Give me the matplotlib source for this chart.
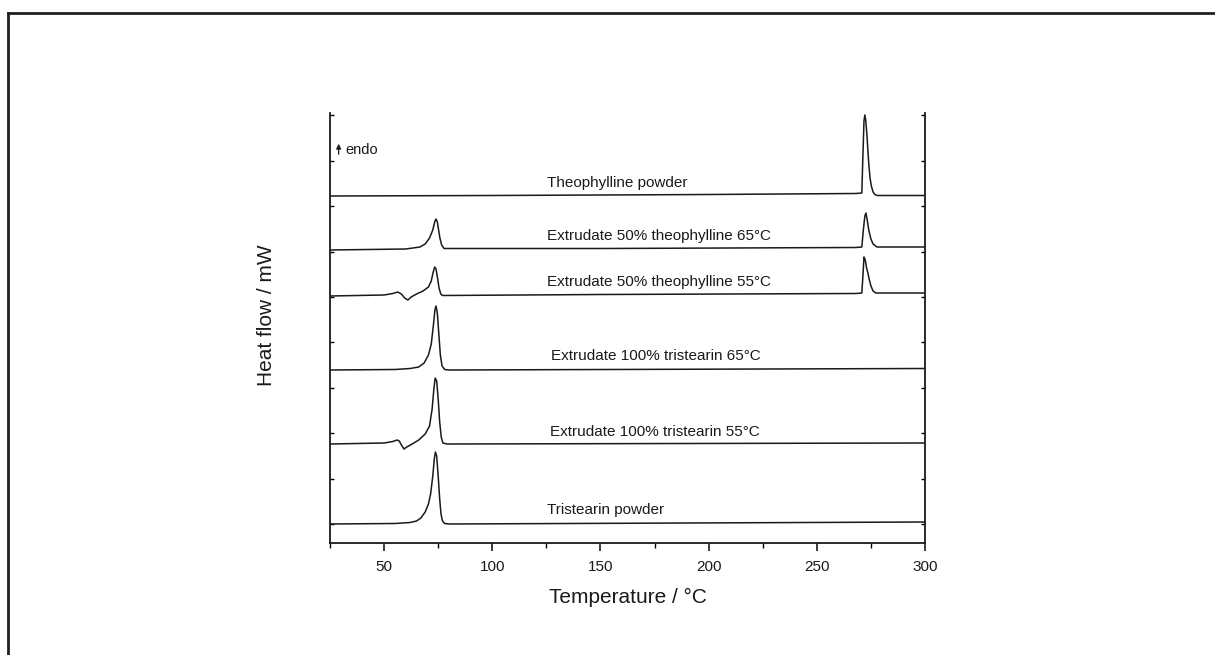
import matplotlib
matplotlib.use('Agg')
import matplotlib.pyplot as plt
from matplotlib.lines import Line2D
from matplotlib.ticker import MultipleLocator

plt.rcParams['font.family'] = ['Liberation Sans', 'DejaVu Sans']

# curve data: temperature (°C) and signal above its own baseline (arb. units)
theo_T = [25, 100, 200, 268, 270.8, 271.3, 271.8, 272.2, 272.6, 273.2, 273.7, 274.1,
          274.6, 275.2, 276, 276.8, 278, 300]
theo_h = [0, 0.5, 1.5, 2.5, 3, 40, 75, 81, 76, 60, 42, 30, 18, 10, 4, 1.5, 0.5, 0.5]

ext50_65_T = [25, 60, 66.6, 69, 71, 72.5, 73.5, 74, 74.6, 75.2, 75.8, 76.6, 77.7, 150,
              268, 270.8, 271.5, 272.2, 272.7, 273.3, 274, 275, 276, 277.8, 300]
ext50_65_h = [0, 1, 3, 6, 12, 20, 29, 31, 28, 20, 12, 5, 1.5, 1.5,
              2.5, 3, 20, 34, 37, 30, 20, 11, 6, 3, 3]

ext50_55_T = [25, 50, 54, 56.3, 58, 59.5, 61, 62.5, 65, 68, 70.5, 71.8, 72.7, 73.4, 74,
              74.7, 75.4, 76.2, 77, 150, 268, 270.8, 271.3, 271.8, 272.4, 273, 273.6,
              274.3, 275, 276, 277.3, 300]
ext50_55_h = [0, 1, 2.5, 4, 2, -2, -4, -1, 2, 5, 9, 15, 24, 29, 27,
              18, 8, 2, 0.5, 1.5, 2.5, 3, 20, 39, 36, 28, 23,
              16, 10, 5, 3, 3]

ext100_65_T = [25, 55, 62, 66, 68.5, 70.5, 71.8, 72.8, 73.5, 74, 74.6, 75.3, 76, 76.8,
               78, 80, 300]
ext100_65_h = [0, 0.5, 1.5, 3, 7, 15, 26, 45, 60, 64, 57, 36, 15, 4, 0.5, 0, 1.5]

ext100_55_T = [25, 50, 54, 56, 57, 58, 59.2, 60.5, 63, 66, 69, 71, 72.2, 73, 73.6, 74.3,
               75, 75.7, 76.4, 77.2, 79, 300]
ext100_55_h = [0, 1, 2.5, 4, 3, -1, -5, -3, 0, 4, 10, 18, 35, 55, 66, 63,
               45, 22, 7, 1, 0, 1]

tris_T = [25, 55, 62, 65, 67, 69, 70.5, 71.5, 72.5, 73.2, 73.7, 74.3, 75, 75.7, 76.3,
          77, 78, 80, 300]
tris_h = [0, 0.5, 1.5, 3, 6, 12, 20, 30, 48, 65, 72, 68, 48, 25, 10, 3, 0.5, 0, 2]

curves = [(theo_T, theo_h), (ext50_65_T, ext50_65_h), (ext50_55_T, ext50_55_h),
          (ext100_65_T, ext100_65_h), (ext100_55_T, ext100_55_h), (tris_T, tris_h)]
offsets = [347, 293, 247, 173, 99, 19]

labels = ['Theophylline powder',
          'Extrudate 50% theophylline 65°C',
          'Extrudate 50% theophylline 55°C',
          'Extrudate 100% tristearin 65°C',
          'Extrudate 100% tristearin 55°C',
          'Tristearin powder']
label_T = [125.5, 125.5, 125.5, 127, 126.5, 125.5]
label_y = [360, 307, 261, 187, 111, 33]

fig = plt.figure(figsize=(12.15, 6.55), dpi=100)
ax = fig.add_axes([330 / 1215, 112 / 655, 595 / 1215, 430 / 655])

for (T, h), off in zip(curves, offsets):
    ax.plot(T, [v + off for v in h], color='#1a1a1a', lw=1.1)

for txt, tx, ty in zip(labels, label_T, label_y):
    ax.text(tx, ty, txt, fontsize=11, ha='left', va='center', color='#1a1a1a')

ax.set_xlim(25, 300)
ax.set_ylim(0, 430)
ax.xaxis.set_major_locator(MultipleLocator(50))
ax.xaxis.set_minor_locator(MultipleLocator(25))
ax.set_yticks([19 + 45.4 * i for i in range(10)])
ax.set_yticklabels([])
ax.tick_params(axis='x', which='major', direction='out', length=6, width=1.2,
               labelsize=11, colors='#1a1a1a', pad=6)
ax.tick_params(axis='x', which='minor', direction='out', length=3.5, width=1.0)
ax.tick_params(axis='y', direction='in', length=3, width=1.0, left=True, right=True)
ax.spines['top'].set_visible(False)
for s in ['left', 'right', 'bottom']:
    ax.spines[s].set_linewidth(1.3)
    ax.spines[s].set_color('#1a1a1a')

ax.set_xlabel('Temperature / °C', fontsize=15, color='#1a1a1a', labelpad=10)
fig.text(267 / 1215, 1 - 315 / 655, 'Heat flow / mW', fontsize=15, rotation=90,
         ha='center', va='center', color='#1a1a1a')

# endo arrow
ax.annotate('', xy=(29, 402), xytext=(29, 386),
            arrowprops=dict(arrowstyle='-|>', color='#1a1a1a', lw=0.9,
                            mutation_scale=7))
ax.text(32, 393, 'endo', fontsize=10.5, ha='left', va='center', color='#1a1a1a')

# outer frame (top and left edge)
fig.add_artist(Line2D([8 / 1215, 1], [1 - 13 / 655, 1 - 13 / 655],
                      transform=fig.transFigure, color='#231f20', lw=2))
fig.add_artist(Line2D([8 / 1215, 8 / 1215], [0, 1 - 13 / 655],
                      transform=fig.transFigure, color='#231f20', lw=2))

fig.savefig('out.png', dpi=100)
